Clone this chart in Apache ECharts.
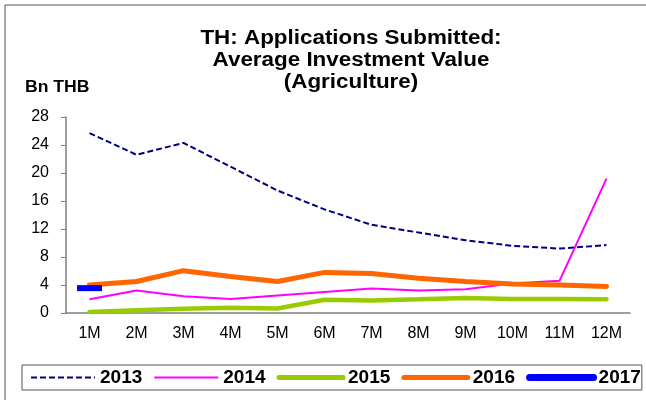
<!DOCTYPE html>
<html>
<head>
<meta charset="utf-8">
<script src="https://cdn.jsdelivr.net/npm/echarts@6/dist/echarts.min.js"></script>
<style>
  html, body { margin: 0; padding: 0; background: #fff; }
  #main { width: 646px; height: 400px; }
</style>
</head>
<body>
<div id="main"></div>
<script>
// categories + values (Bn THB)
var months = ['1M','2M','3M','4M','5M','6M','7M','8M','9M','10M','11M','12M'];
var yTicks = [0, 4, 8, 12, 16, 20, 24, 28];
var y2013 = [25.7, 22.6, 24.3, 20.9, 17.5, 14.8, 12.6, 11.5, 10.4, 9.6, 9.2, 9.7];
var y2014 = [1.95, 3.2, 2.4, 2.0, 2.5, 3.0, 3.5, 3.2, 3.4, 4.2, 4.6, 19.2];
var y2015 = [0.15, 0.4, 0.6, 0.75, 0.65, 1.9, 1.8, 1.95, 2.15, 2.0, 2.0, 1.95];
var y2016 = [4.0, 4.5, 6.05, 5.2, 4.5, 5.8, 5.65, 4.95, 4.5, 4.15, 4.0, 3.8];
var y2017 = [3.55, null, null, null, null, null, null, null, null, null, null, null];

var chart = echarts.init(document.getElementById('main'));

var font = '"Liberation Sans", Arial, Helvetica, sans-serif';

chart.setOption({
  animation: false,
  textStyle: { fontFamily: font },
  graphic: [
    // outer frame (only left and top edges show inside the crop)
    { type: 'rect', shape: { x: 5, y: 5, width: 720, height: 500 },
      style: { fill: 'none', stroke: '#555', lineWidth: 1 }, silent: true },
    { type: 'text', x: 351, y: 27, scaleX: 1.12,
      style: { text: 'TH: Applications Submitted:\nAverage Investment Value\n(Agriculture)',
        font: 'bold 20px ' + font, fill: '#000', align: 'center', verticalAlign: 'top', lineHeight: 22 } },
    { type: 'text', x: 25, y: 80, scaleX: 1.1,
      style: { text: 'Bn THB', font: 'bold 16px ' + font, fill: '#000', verticalAlign: 'top' } }
  ],
  legend: {
    left: 22, top: 365, width: 640,
    padding: [3, 1, 3, 8],
    borderColor: '#555', borderWidth: 1,
    itemWidth: 64, itemHeight: 8, itemGap: 11,
    itemStyle: { opacity: 0 },
    textStyle: { fontSize: 19, fontWeight: 'bold', color: '#000' },
    data: [
      { name: '2013', lineStyle: { width: 2 } },
      { name: '2014', lineStyle: { width: 2 } },
      { name: '2015', lineStyle: { width: 5, cap: 'round' } },
      { name: '2016', lineStyle: { width: 5, cap: 'round' } },
      { name: '2017', lineStyle: { width: 7, cap: 'round' } }
    ]
  },
  grid: { left: 66, right: 16, top: 117, bottom: 87 },
  xAxis: {
    type: 'category',
    data: months,
    boundaryGap: true,
    axisLine: { lineStyle: { color: '#808080', width: 1.5 } },
    axisTick: { length: 5, lineStyle: { color: '#808080' } },
    axisLabel: { color: '#000', fontSize: 16, margin: 13 }
  },
  yAxis: {
    type: 'value',
    min: yTicks[0], max: yTicks[yTicks.length - 1], interval: 4,
    splitLine: { show: false },
    axisLine: { show: true, lineStyle: { color: '#808080', width: 1.5 } },
    axisTick: { show: true, length: 5, lineStyle: { color: '#808080' } },
    axisLabel: { color: '#000', fontSize: 16, margin: 17 }
  },
  series: [
    { name: '2013', type: 'line', data: y2013, symbol: 'none',
      itemStyle: { color: '#000080' },
      lineStyle: { color: '#000080', width: 2, type: [6, 3] } },
    { name: '2014', type: 'line', data: y2014, symbol: 'none',
      itemStyle: { color: '#FF00FF' },
      lineStyle: { color: '#FF00FF', width: 2 } },
    { name: '2015', type: 'line', data: y2015, symbol: 'none',
      itemStyle: { color: '#99CC00' },
      lineStyle: { color: '#99CC00', width: 4.5, cap: 'round' } },
    { name: '2016', type: 'line', data: y2016, symbol: 'none',
      itemStyle: { color: '#FF6600' },
      lineStyle: { color: '#FF6600', width: 5, cap: 'round' } },
    { name: '2017', type: 'line', data: y2017,
      symbol: 'rect', symbolSize: [25, 6], showSymbol: true,
      itemStyle: { color: '#0000FF' },
      lineStyle: { color: '#0000FF', width: 7, cap: 'round' } }
  ]
});
</script>
</body>
</html>
